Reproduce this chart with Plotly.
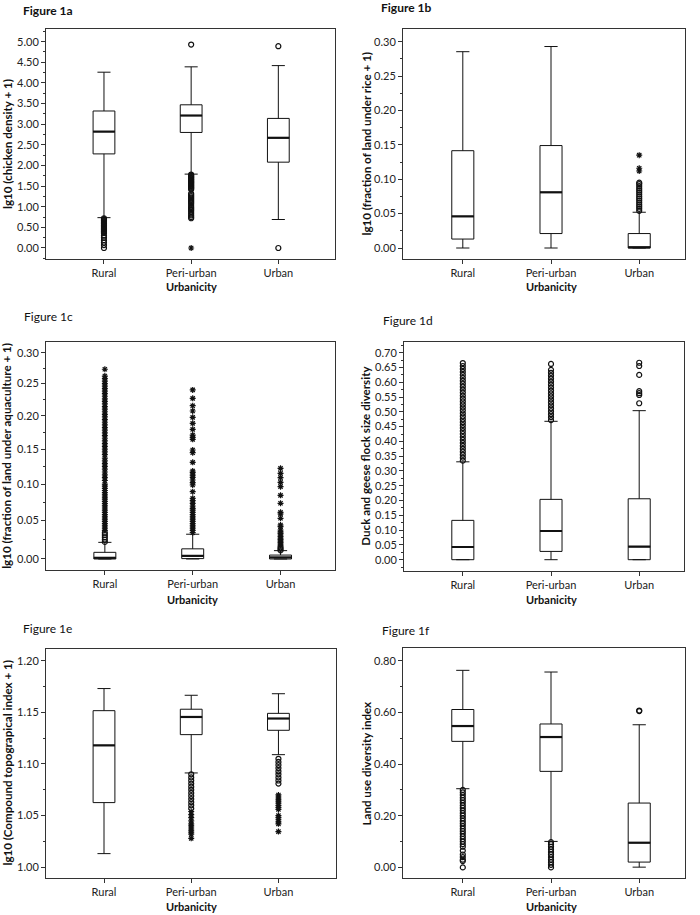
import numpy as np
import plotly.graph_objects as go

# ---------------- data ----------------
categories = ["Rural", "Peri-urban", "Urban"]

# Figure 1a: lg10 (chicken density + 1)
a_q1 = [2.28, 2.80, 2.08]
a_med = [2.82, 3.21, 2.67]
a_q3 = [3.32, 3.47, 3.14]
a_lo = [0.735, 1.79, 0.69]
a_hi = [4.26, 4.39, 4.42]
a_out_circ = [
    [0.72, 0.70, 0.68, 0.66, 0.64, 0.62, 0.60, 0.58, 0.56, 0.54, 0.52, 0.50, 0.48,
     0.46, 0.44, 0.42, 0.40, 0.38, 0.36, 0.30, 0.25, 0.19, 0.13, 0.07, 0.0],
    [4.93, 1.78, 1.76, 1.74, 1.72, 1.70, 1.68, 1.66, 1.64, 1.62, 1.60, 1.58, 1.56,
     1.54, 1.52, 1.50, 1.48, 1.46, 1.44, 1.42, 1.32, 1.29, 1.26, 1.23, 1.20, 1.17,
     1.14, 1.11, 1.08, 1.04, 1.00, 0.97, 0.94, 0.91, 0.87, 0.83, 0.79, 0.75, 0.72],
    [4.89, 0.0],
]
a_out_star = [[], [0.0], []]

# Figure 1b: lg10 (fraction of land under rice + 1)
b_q1 = [0.013, 0.021, 0.0]
b_med = [0.046, 0.081, 0.001]
b_q3 = [0.1415, 0.149, 0.021]
b_lo = [0.0, 0.0, 0.0]
b_hi = [0.2855, 0.293, 0.052]
b_out_circ = [[], [],
              [0.054, 0.057, 0.060, 0.063, 0.066, 0.069, 0.072, 0.075, 0.078, 0.081,
               0.084, 0.087, 0.090, 0.093, 0.095]]
b_out_star = [[], [], [0.112, 0.116, 0.135]]

# Figure 1c: lg10 (fraction of land under aquaculture + 1)  (axis drawn on log(1+v) scale)
c_q1 = [0.0, 0.0005, 0.0]
c_med = [0.0015, 0.004, 0.002]
c_q3 = [0.0085, 0.013, 0.005]
c_lo = [0.0, 0.0, 0.0]
c_hi = [0.0214, 0.032, 0.0107]
c_out_circ = [[0.022, 0.025, 0.028, 0.031, 0.034], [], [0.011, 0.013, 0.015]]
c_out_star = [
    [0.037, 0.040, 0.043, 0.046, 0.049, 0.052, 0.055, 0.058, 0.061, 0.064, 0.067,
     0.070, 0.073, 0.076, 0.079, 0.082, 0.085, 0.088, 0.091, 0.094, 0.097, 0.100,
     0.105, 0.109, 0.113, 0.117, 0.121, 0.125, 0.129, 0.133, 0.137, 0.142, 0.146,
     0.150, 0.154, 0.158, 0.162, 0.166, 0.170, 0.174, 0.178, 0.182, 0.186, 0.190,
     0.194, 0.198, 0.202, 0.206, 0.210, 0.214, 0.218, 0.222, 0.226, 0.230, 0.234,
     0.238, 0.242, 0.246, 0.250, 0.254, 0.258, 0.262, 0.273],
    [0.034, 0.037, 0.040, 0.043, 0.046, 0.049, 0.052, 0.055, 0.058, 0.061, 0.064,
     0.0666, 0.0697, 0.0734, 0.077, 0.0802, 0.0894, 0.0987, 0.1019, 0.1057, 0.1095,
     0.1127, 0.1161, 0.1184, 0.1308, 0.1448, 0.1487, 0.1644, 0.1673, 0.1708,
     0.1793, 0.1883, 0.1974, 0.2071, 0.2153, 0.2267, 0.240],
    [0.017, 0.019, 0.021, 0.023, 0.025, 0.027, 0.029, 0.031, 0.033, 0.035, 0.0376,
     0.042, 0.0442, 0.0531, 0.0589, 0.0611, 0.0734, 0.0843, 0.0964, 0.1024, 0.109,
     0.1151, 0.1222],
]

# Figure 1d: Duck and geese flock size diversity
d_q1 = [0.0, 0.028, 0.0]
d_med = [0.043, 0.097, 0.044]
d_q3 = [0.133, 0.204, 0.206]
d_lo = [0.0, 0.0, 0.0]
d_hi = [0.331, 0.468, 0.504]
d_out_circ = [
    [0.335, 0.345, 0.355, 0.365, 0.375, 0.385, 0.395, 0.405, 0.415, 0.425, 0.435,
     0.445, 0.455, 0.465, 0.475, 0.485, 0.495, 0.505, 0.515, 0.525, 0.535, 0.545,
     0.555, 0.565, 0.575, 0.585, 0.595, 0.605, 0.615, 0.625, 0.635, 0.645, 0.655,
     0.665],
    [0.472, 0.482, 0.492, 0.502, 0.512, 0.522, 0.532, 0.542, 0.552, 0.562, 0.572,
     0.582, 0.592, 0.602, 0.612, 0.622, 0.632, 0.642, 0.662],
    [0.529, 0.557, 0.563, 0.570, 0.625, 0.655, 0.666],
]
d_out_star = [[], [], []]

# Figure 1e: lg10 (Compound topograpical index + 1)
e_q1 = [1.0626, 1.1284, 1.1326]
e_med = [1.118, 1.1455, 1.144]
e_q3 = [1.1516, 1.153, 1.149]
e_lo = [1.0132, 1.0913, 1.109]
e_hi = [1.173, 1.1665, 1.168]
e_out_circ = [
    [],
    [1.090, 1.087, 1.084, 1.081, 1.078, 1.075, 1.072, 1.069, 1.066, 1.063, 1.060,
     1.057],
    [1.105, 1.102, 1.099, 1.096, 1.093, 1.090, 1.087, 1.084, 1.081],
]
e_out_star = [
    [],
    [1.054, 1.051, 1.048, 1.045, 1.042, 1.040, 1.038, 1.036, 1.034, 1.032, 1.028],
    [1.070, 1.068, 1.066, 1.064, 1.062, 1.060, 1.058, 1.056, 1.050, 1.048, 1.046,
     1.044, 1.042, 1.0345],
]

# Figure 1f: Land use diversity index
f_q1 = [0.4877, 0.3716, 0.0206]
f_med = [0.547, 0.5045, 0.0955]
f_q3 = [0.611, 0.555, 0.249]
f_lo = [0.3045, 0.1006, 0.001]
f_hi = [0.7626, 0.756, 0.552]
f_out_circ = [
    [0.300, 0.290, 0.280, 0.270, 0.260, 0.250, 0.240, 0.230, 0.220, 0.210, 0.200,
     0.190, 0.180, 0.170, 0.160, 0.150, 0.140, 0.130, 0.120, 0.110, 0.100, 0.090,
     0.080, 0.065, 0.050, 0.040, 0.030, 0.025, 0.0],
    [0.098, 0.090, 0.080, 0.070, 0.060, 0.050, 0.040, 0.030, 0.020, 0.010, 0.0],
    [0.605, 0.607],
]
f_out_star = [[], [], []]

# tick labels
a_ticks = [0.0, 0.5, 1.0, 1.5, 2.0, 2.5, 3.0, 3.5, 4.0, 4.5, 5.0]
b_ticks = [0.0, 0.05, 0.10, 0.15, 0.20, 0.25, 0.30]
c_ticks = [0.0, 0.05, 0.10, 0.15, 0.20, 0.25, 0.30]
d_ticks = [0.0, 0.05, 0.10, 0.15, 0.20, 0.25, 0.30, 0.35, 0.40, 0.45, 0.50, 0.55,
           0.60, 0.65, 0.70]
e_ticks = [1.00, 1.05, 1.10, 1.15, 1.20]
f_ticks = [0.0, 0.2, 0.4, 0.6, 0.8]

# ---------------- layout helpers ----------------
W, H = 700, 915
FONT = "Lato, 'Open Sans', sans-serif"
BW = 0.25  # box width (data units)

panels = [
    dict(lab="Figure 1a", bold=True, ytitle="lg10 (chicken density + 1)",
         q1=a_q1, med=a_med, q3=a_q3, lo=a_lo, hi=a_hi, oc=a_out_circ, os=a_out_star,
         ticks=a_ticks, minor=0.25, log=False,
         px=(46, 335), py=(29, 259), xr=(-0.665, 2.65), yr=(-0.267, 5.307),
         labxy=(21, 10), ytx=7, xty=287),
    dict(lab="Figure 1b", bold=True, ytitle="lg10 (fraction of land under rice + 1)",
         q1=b_q1, med=b_med, q3=b_q3, lo=b_lo, hi=b_hi, oc=b_out_circ, os=b_out_star,
         ticks=b_ticks, minor=0.025, log=False,
         px=(403, 685), py=(29, 259), xr=(-0.678, 2.519), yr=(-0.016, 0.3185),
         labxy=(379, 7), ytx=365.5, xty=287),
    dict(lab="Figure 1c", bold=False, ytitle="lg10 (fraction of land under aquaculture + 1)",
         q1=c_q1, med=c_med, q3=c_q3, lo=c_lo, hi=c_hi, oc=c_out_circ, os=c_out_star,
         ticks=c_ticks, minor=0.025, log=True,
         px=(46, 335), py=(341.7, 570), xr=(-0.67, 2.62), yr=(-0.014, 0.2764),
         labxy=(21.5, 316), ytx=7, xty=599),
    dict(lab="Figure 1d", bold=False, ytitle="Duck and geese flock size diversity",
         q1=d_q1, med=d_med, q3=d_q3, lo=d_lo, hi=d_hi, oc=d_out_circ, os=d_out_star,
         ticks=d_ticks, minor=0.025, log=False,
         px=(404, 684), py=(341.7, 570.7), xr=(-0.667, 2.508), yr=(-0.0372, 0.7372),
         labxy=(380.5, 320.5), ytx=365.5, xty=599),
    dict(lab="Figure 1e", bold=False, ytitle="lg10 (Compound topograpical index + 1)",
         q1=e_q1, med=e_med, q3=e_q3, lo=e_lo, hi=e_hi, oc=e_out_circ, os=e_out_star,
         ticks=e_ticks, minor=0.025, log=False,
         px=(46, 336), py=(649, 878), xr=(-0.665, 2.66), yr=(0.9896, 1.2113),
         labxy=(21, 628), ytx=7, xty=906),
    dict(lab="Figure 1f", bold=False, ytitle="Land use diversity index",
         q1=f_q1, med=f_med, q3=f_q3, lo=f_lo, hi=f_hi, oc=f_out_circ, os=f_out_star,
         ticks=f_ticks, minor=0.1, log=False,
         px=(403, 685), py=(648, 878), xr=(-0.678, 2.519), yr=(-0.041, 0.849),
         labxy=(380, 630.5), ytx=365.5, xty=906),
]

fig = go.Figure()
annotations = []
layout_axes = {}

for i, p in enumerate(panels, start=1):
    xa, ya = f"x{i}", f"y{i}"
    tf = (lambda v: np.log1p(np.asarray(v, dtype=float))) if p["log"] else \
         (lambda v: np.asarray(v, dtype=float))
    pos = list(range(len(categories)))

    fig.add_trace(go.Box(
        x=pos, q1=tf(p["q1"]), median=tf(p["med"]), q3=tf(p["q3"]),
        lowerfence=tf(p["lo"]), upperfence=tf(p["hi"]),
        width=BW, whiskerwidth=0.6, fillcolor="white",
        line=dict(color="#111111", width=1), boxpoints=False,
        xaxis=xa, yaxis=ya, showlegend=False, hoverinfo="skip"))

    # thicker median lines
    mx, my = [], []
    for c, m in zip(pos, tf(p["med"])):
        mx += [c - BW / 2, c + BW / 2, None]
        my += [m, m, None]
    fig.add_trace(go.Scatter(x=mx, y=my, mode="lines",
                             line=dict(color="#111111", width=2.2),
                             xaxis=xa, yaxis=ya, showlegend=False, hoverinfo="skip"))

    for c, vals in zip(pos, p["oc"]):
        if vals:
            fig.add_trace(go.Scatter(
                x=[c] * len(vals), y=tf(vals), mode="markers",
                marker=dict(symbol="circle-open", size=5, color="#111111",
                            line=dict(width=1.2, color="#111111")),
                xaxis=xa, yaxis=ya, showlegend=False, hoverinfo="skip"))
    for c, vals in zip(pos, p["os"]):
        if vals:
            fig.add_trace(go.Scatter(
                x=[c] * len(vals), y=tf(vals), mode="markers",
                marker=dict(symbol="asterisk-open", size=5, color="#111111",
                            line=dict(width=1.2, color="#111111")),
                xaxis=xa, yaxis=ya, showlegend=False, hoverinfo="skip"))

    x0, x1 = p["px"]
    y0, y1 = p["py"]
    ticks = p["ticks"]
    step = ticks[1] - ticks[0]
    minor_vals = [t + p["minor"] * k for t in ([ticks[0] - step] + ticks)
                  for k in range(1, int(round(step / p["minor"])))]
    suffix = "" if i == 1 else str(i)
    layout_axes["xaxis" + suffix] = dict(
        domain=[x0 / W, x1 / W], anchor=ya, range=list(p["xr"]),
        tickmode="array", tickvals=pos, ticktext=categories,
        ticks="outside", ticklen=4, tickcolor="#333", showgrid=False, zeroline=False,
        showline=True, mirror=True, linecolor="#333", linewidth=1,
        tickfont=dict(family=FONT, size=11, color="#222"))
    layout_axes["yaxis" + suffix] = dict(
        domain=[1 - y1 / H, 1 - y0 / H], anchor=xa, range=list(p["yr"]),
        tickmode="array", tickvals=list(tf(ticks)),
        ticktext=[f"{t:.2f}" for t in ticks],
        ticks="outside", ticklen=4, tickcolor="#333", showgrid=False, zeroline=False,
        showline=True, mirror=True, linecolor="#333", linewidth=1,
        tickfont=dict(family=FONT, size=11, color="#222"),
        minor=dict(tickmode="array", tickvals=list(tf(minor_vals)), ticks="outside",
                   ticklen=2, tickcolor="#333", showgrid=False))

    lx, ly = p["labxy"]
    annotations.append(dict(
        text=f"<b>{p['lab']}</b>" if p["bold"] else p["lab"],
        x=lx / W, y=1 - ly / H, xref="paper", yref="paper",
        xanchor="left", yanchor="middle", showarrow=False,
        font=dict(family=FONT, size=12, color="#111")))
    annotations.append(dict(
        text=f"<b>{p['ytitle']}</b>", textangle=-90,
        x=p["ytx"] / W, y=1 - (y0 + y1) / 2 / H, xref="paper", yref="paper",
        xanchor="center", yanchor="middle", showarrow=False,
        font=dict(family=FONT, size=11.6, color="#111")))
    annotations.append(dict(
        text="<b>Urbanicity</b>", x=1, y=1 - p["xty"] / H, xref=xa, yref="paper",
        xanchor="center", yanchor="middle", showarrow=False,
        font=dict(family=FONT, size=11, color="#111")))

fig.update_layout(
    width=W, height=H, margin=dict(l=0, r=0, t=0, b=0),
    paper_bgcolor="white", plot_bgcolor="white", showlegend=False,
    annotations=annotations, **layout_axes)

fig.write_html("out.html", config={"displayModeBar": False},
               post_script="document.body.style.margin='0';document.body.style.overflow='hidden';")
